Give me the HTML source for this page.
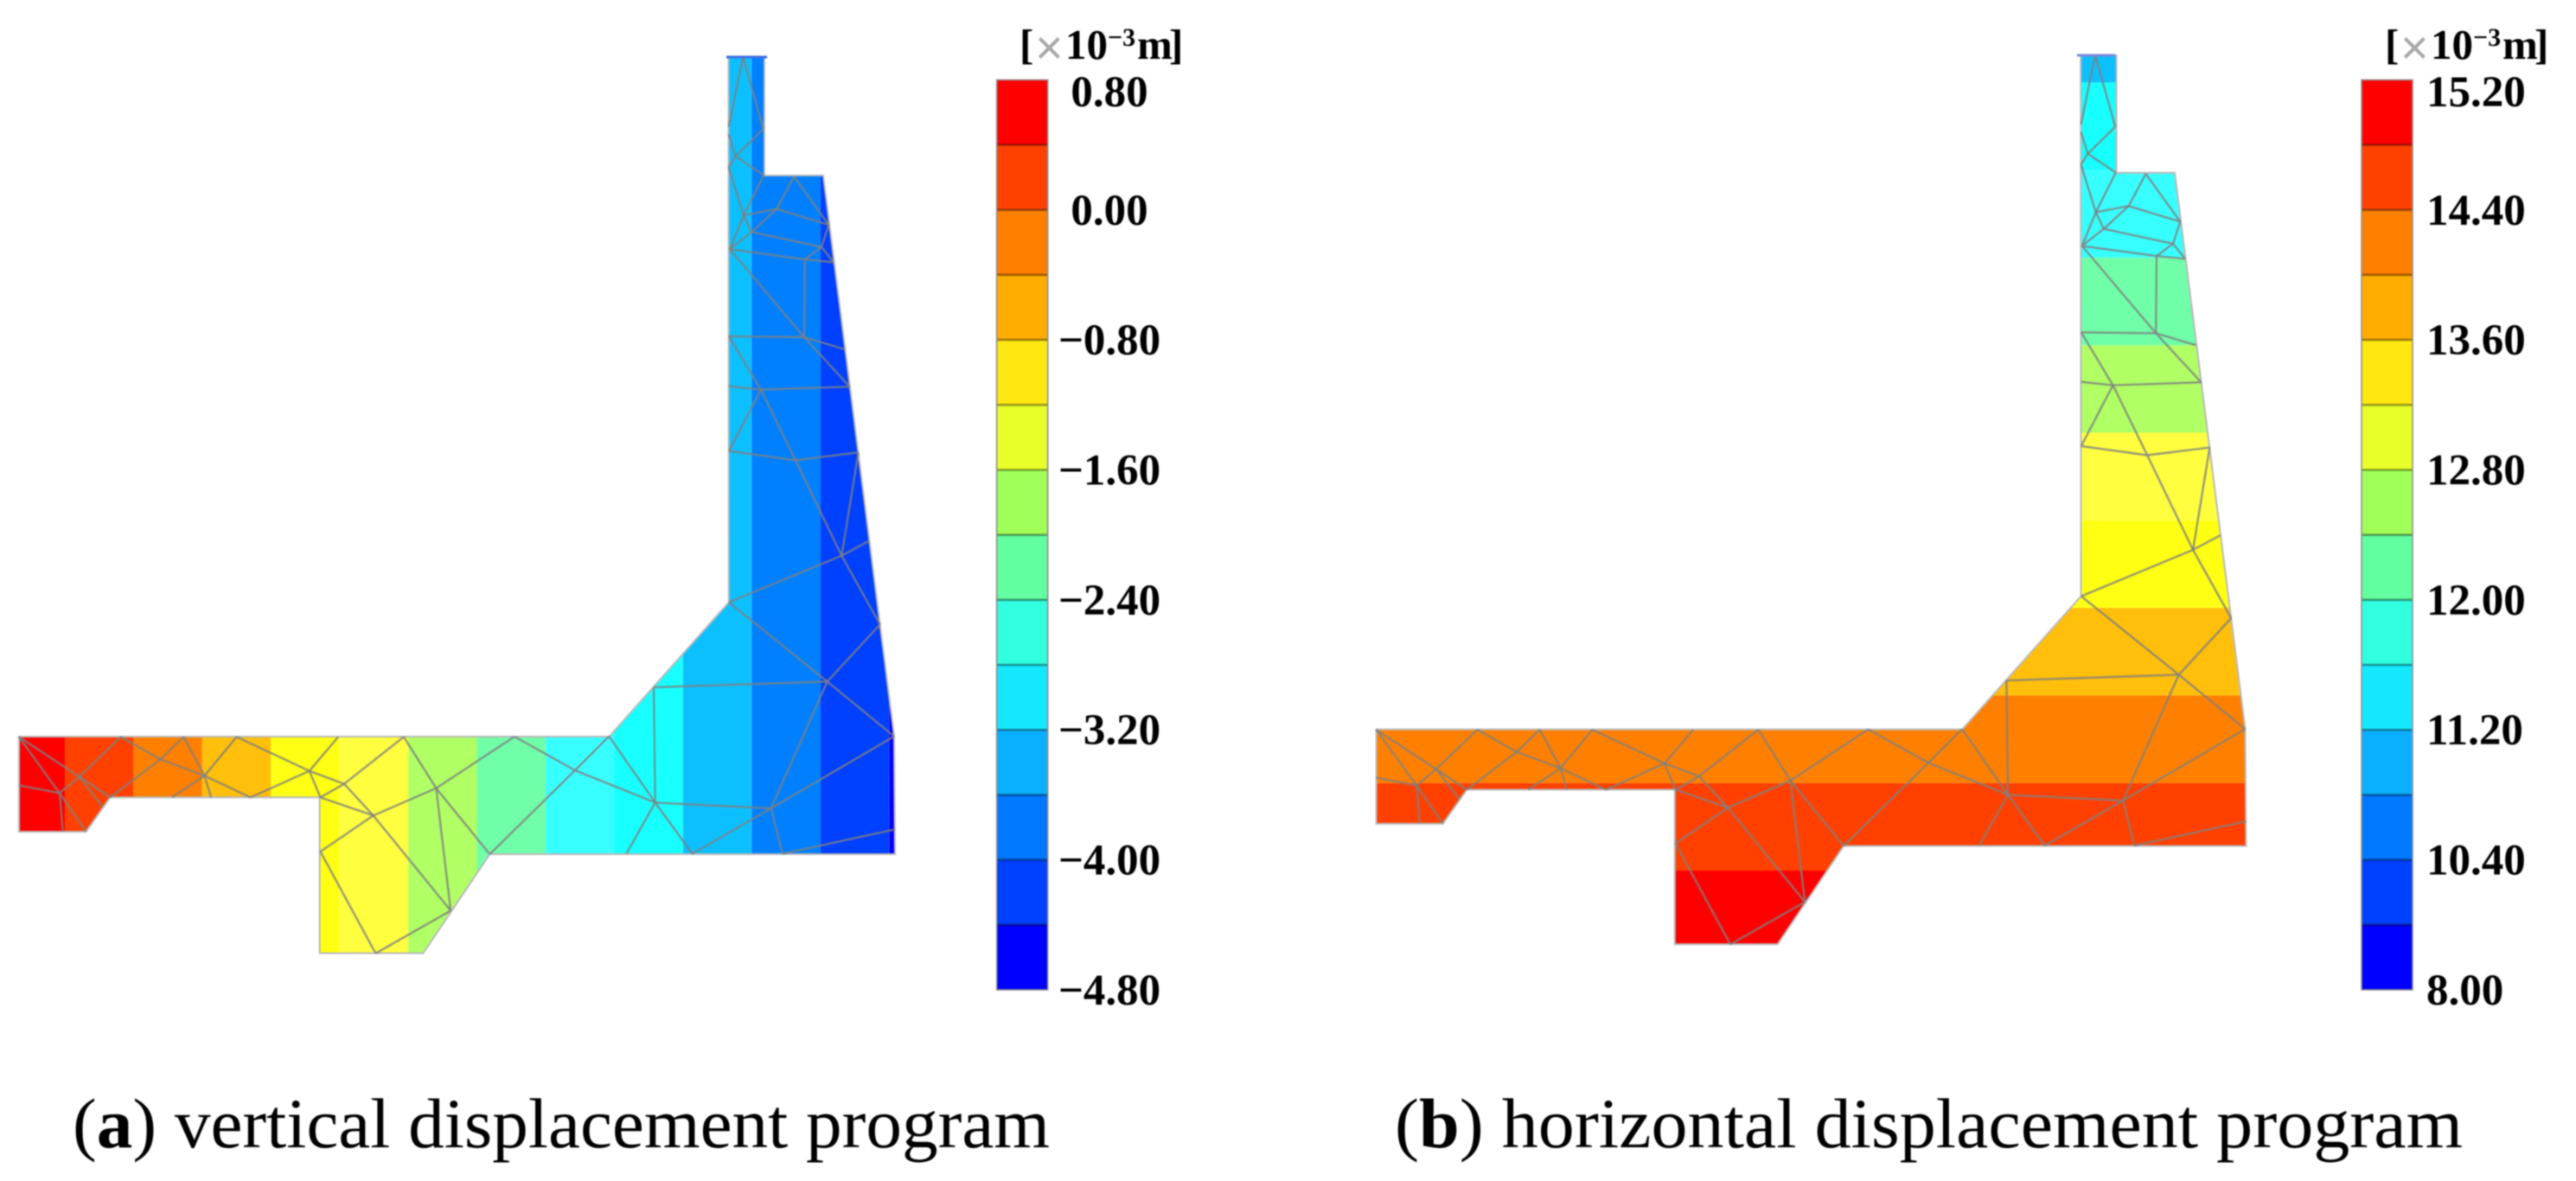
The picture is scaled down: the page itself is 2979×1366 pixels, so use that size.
<!DOCTYPE html>
<html lang="en">
<head>
<meta charset="utf-8">
<title>Vertical and horizontal displacement contours</title>
<style>
html,body{margin:0;padding:0;background:#fff;}
body{width:2979px;height:1366px;overflow:hidden;}
#figure{display:block;filter:blur(0.7px);}
text{font-family:"Liberation Serif",serif;fill:#000;}
.tick{font-size:51px;font-weight:700;}
.unit{font-size:49px;font-weight:700;}
.unit-sup{font-size:30px;font-weight:700;}
.unit-x{font-family:"Liberation Sans",sans-serif;font-size:56px;font-weight:400;fill:#a8a8a8;}
.caption{font-size:82px;}
</style>
</head>
<body>
<svg id="figure" xmlns="http://www.w3.org/2000/svg" width="2979" height="1366" viewBox="0 0 2979 1366">
  <rect width="2979" height="1366" fill="#fff"/>
  <g id="panel-a"></g>
  <g id="panel-b"></g>

  <g>
    <text class="unit" x="1179" y="68">[</text>
    <text class="unit-x" x="1197" y="74">×</text>
    <text class="unit" x="1232" y="68">10</text>
    <text class="unit-sup" x="1281" y="53">−3</text>
    <text class="unit" x="1315" y="68">m</text>
    <text class="unit" x="1352" y="68">]</text>
  </g>
  <g transform="translate(1579 0)">
    <text class="unit" x="1179" y="68">[</text>
    <text class="unit-x" x="1197" y="74">×</text>
    <text class="unit" x="1232" y="68">10</text>
    <text class="unit-sup" x="1281" y="53">−3</text>
    <text class="unit" x="1315" y="68">m</text>
    <text class="unit" x="1352" y="68">]</text>
  </g>

  <text class="caption" x="84" y="1327" textLength="1130" lengthAdjust="spacingAndGlyphs">(<tspan font-weight="700">a</tspan>) vertical displacement program</text>
  <text class="caption" x="1613" y="1327" textLength="1235" lengthAdjust="spacingAndGlyphs">(<tspan font-weight="700">b</tspan>) horizontal displacement program</text>
</svg>

<script>
// Legend band colours, top to bottom
const legendColors = ["#ff0000","#ff4000","#ff7f00","#ffad00","#ffe812","#e8ff2a","#a0ff58","#62ffa0","#30ffe0","#14e8ff","#0ab0ff","#0078ff","#0040ff","#0000ff"];
// Contour fill colours as they appear on the dam section, same band order
const contourColors = ["#ff0000","#ff4000","#ff8000","#ffbf0a","#ffff14","#ffff40","#b0ff64","#70ffa8","#38ffff","#18ffff","#0cc0ff","#0080ff","#0040ff","#0000ff"];
// Contour band edges (x10^-3 m)
const verticalLevels = [0.8,0.4,0,-0.4,-0.8,-1.2,-1.6,-2.0,-2.4,-2.8,-3.2,-3.6,-4.0,-4.4,-4.8];
const horizontalLevels = [15.2,14.8,14.4,14.0,13.6,13.2,12.8,12.4,12.0,11.6,11.2,10.8,10.4,9.2,8.0];
// Legend tick labels, one for every second band edge
const verticalTicks = ["0.80","0.00","−0.80","−1.60","−2.40","−3.20","−4.00","−4.80"];
const horizontalTicks = ["15.20","14.40","13.60","12.80","12.00","11.20","10.40","8.00"];

// Dam cross-section geometry in model units
const damOutline = [[842.5,66],[884,66],[884,203],[952,203],[1034,851.6],[1035,988],[566.4,988],[489.4,1102.5],[369.7,1102.5],[369.7,922.3],[127.4,922.3],[99.5,962],[22,962],[22,852],[704.5,852],[842.8,696.7]];
const meshNodes = {
  A:[859.3,65.7],B:[882.7,149.3],C:[842.7,146.7],D:[842.7,155],E:[850.7,180.7],F:[842.7,193.3],G:[883.3,202.7],
  H:[860,249],I:[918.3,204],J:[898.3,241.7],K:[958.3,260],L:[869.3,268.3],M:[950,285.7],N:[844,288.3],O:[930.7,300],P:[964,303.3],
  Q:[930,390],R:[843,389],S:[976.7,404],T:[982.7,447.3],U:[880,450.7],V:[842.7,446.7],W:[843,521.7],X:[920,532.3],Y:[992.7,523.3],
  Z:[973.3,642.7],AA:[1005,625.7],BB:[843,696.7],CC:[1017.7,722.3],DD:[956.7,788.3],EE:[756,795],FF:[757.7,928.3],GG:[1034,851.7],
  HH:[891.7,935],II:[800.7,987.5],JJ:[905,987.5],KK:[1035,959.3],LL:[724.3,987.5],MM:[704.3,851.7],NN:[566.4,988],OO:[665,891],PP:[595,852],
  a1:[21.8,852.3],a2:[139.7,852.3],a3:[212.4,852.3],a4:[273.6,852.3],a5:[391.1,852.3],a6:[466.9,852.3],
  b1:[91.8,898.3],b2:[185.6,878.3],b3:[236.5,897.3],b4:[357.8,891.7],b5:[398,906.7],b6:[68.9,917.3],b7:[504.4,911.7],b8:[431.7,943.3],
  c1:[21.8,908.3],d1:[127.4,922.3],d2:[199,922.3],d3:[244.2,922.3],d4:[289.7,922.3],d5:[370.5,922.3],
  e1:[118.6,933.3],e2:[72.7,961.7],e3:[99.5,961.7],f1:[370.5,985],f2:[434.4,1102.7],f3:[521.2,1053.3]
};
const meshEdges = ["A-C","A-B","B-E","D-E","E-F","E-G","F-H","G-H","H-J","J-I","I-K","J-K","J-L","H-L","H-N","L-N","L-M","K-M","M-O","M-P","N-O","O-P",
  "N-Q","O-Q","R-Q","Q-S","Q-T","R-U","V-U","U-T","U-W","W-X","U-X","X-Y","X-Z","Y-Z","Z-AA","BB-Z","Z-CC","CC-DD","BB-DD","EE-DD","EE-FF","DD-GG","GG-HH","DD-HH","HH-FF",
  "HH-II","HH-JJ","JJ-KK","FF-II","FF-LL","MM-FF","MM-OO","OO-NN","OO-FF","PP-OO","PP-b7",
  "a1-b6","a1-b1","b1-d1","a2-b1","b1-b6","c1-b6","b6-e2","b6-e3","b1-e1","a2-b2","b2-b3","a3-b2","b2-d1","a3-b3","a4-b3","b3-d2","b3-d3","b3-d4","a4-b4","a5-b4","d4-b4","b4-d5","b4-b5","a6-b5","b5-d5","d5-b8","b5-b8","b8-b7","a6-b7","f1-b8","f1-f2","b8-f3","b7-f3","b7-NN","f2-f3"];

const SVG_NS = "http://www.w3.org/2000/svg";
function make(tag, parent) {
  const el = document.createElementNS(SVG_NS, tag);
  parent.appendChild(el);
  return el;
}

// Axis functions: legend band edge index to y, contour level to position
function legendY(edgeIndex) { return 92.4 + edgeIndex * 75.18; }
function verticalFieldX(level) { return 75 + (0.4 - level) * 198.6; }
function horizontalFieldY(level) { return 1007 - (14.8 - level) * 253.25; }

// Model-to-page mappings for the two section drawings
const panelAX = function (x) { return x; };
const panelAY = function (y) { return y; };
const panelBX = function (x) { return 1569.76 + x * 0.9929; };
const panelBY = function (y) { return -1.47 + y * 0.9919; };

function drawSection(group, key, mapX, mapY) {
  const points = damOutline.map(function (p) { return mapX(p[0]).toFixed(1) + "," + mapY(p[1]).toFixed(1); }).join(" ");
  const defs = make("defs", group);
  const clip = make("clipPath", defs);
  clip.setAttribute("id", "clip-" + key);
  const clipShape = make("polygon", clip);
  clipShape.setAttribute("points", points);

  const bands = make("g", group);
  bands.setAttribute("clip-path", "url(#clip-" + key + ")");
  
  

  const outline = make("polygon", group);
  outline.setAttribute("points", points);
  outline.setAttribute("fill", "none");
  outline.setAttribute("stroke", "#b9b9b9");
  outline.setAttribute("stroke-width", "2");
  
  

  const mesh = make("g", group);
  mesh.setAttribute("stroke", "#7f7f7f");
  mesh.setAttribute("stroke-opacity", "0.8");
  mesh.setAttribute("stroke-width", "2.4");
  
  
  meshEdges.forEach(function (edge) {
    const ends = edge.split("-");
    const from = meshNodes[ends[0]];
    const to = meshNodes[ends[1]];
    const line = make("line", mesh);
    line.setAttribute("x1", mapX(from[0]).toFixed(1));
    line.setAttribute("y1", mapY(from[1]).toFixed(1));
    line.setAttribute("x2", mapX(to[0]).toFixed(1));
    line.setAttribute("y2", mapY(to[1]).toFixed(1));
    
    
  });
  return bands;
}

function drawCap(group, x1, x2, y, color) {
  const cap = make("line", group);
  cap.setAttribute("x1", x1);
  cap.setAttribute("x2", x2);
  cap.setAttribute("y1", y);
  cap.setAttribute("y2", y);
  cap.setAttribute("stroke", color);
  cap.setAttribute("stroke-width", "3");
  
  
}

function drawLegend(group, x, ticks, tickX, anchor) {
  const width = 59;
  const legend = make("g", group);
  
  
  legendColors.forEach(function (color, i) {
    const band = make("rect", legend);
    band.setAttribute("x", x);
    band.setAttribute("y", legendY(i).toFixed(1));
    band.setAttribute("width", width);
    band.setAttribute("height", (legendY(i + 1) - legendY(i)).toFixed(1));
    band.setAttribute("fill", color);
    
    
    if (i > 0) {
      const sep = make("line", legend);
      sep.setAttribute("x1", x);
      sep.setAttribute("x2", x + width);
      sep.setAttribute("y1", legendY(i).toFixed(1));
      sep.setAttribute("y2", legendY(i).toFixed(1));
      sep.setAttribute("stroke", "#000");
      sep.setAttribute("stroke-opacity", "0.38");
      sep.setAttribute("stroke-width", "2.6");
      
      
    }
  });
  const frame = make("rect", legend);
  frame.setAttribute("x", x);
  frame.setAttribute("y", legendY(0).toFixed(1));
  frame.setAttribute("width", width);
  frame.setAttribute("height", (legendY(legendColors.length) - legendY(0)).toFixed(1));
  frame.setAttribute("fill", "none");
  frame.setAttribute("stroke", "#909090");
  frame.setAttribute("stroke-width", "1.6");
  
  
  ticks.forEach(function (label, i) {
    const t = make("text", legend);
    t.setAttribute("class", "tick");
    t.setAttribute("x", tickX);
    t.setAttribute("y", (Math.max(legendY(i * 2), 106) + 17).toFixed(1));
    t.setAttribute("text-anchor", anchor);
    
    
    t.textContent = label;
  });
}

// Panel (a): bands vary with x
const groupA = document.getElementById("panel-a");
const bandsA = drawSection(groupA, "a", panelAX, panelAY);
contourColors.forEach(function (color, i) {
  const x1 = verticalFieldX(verticalLevels[i]);
  const x2 = verticalFieldX(verticalLevels[i + 1]);
  const strip = make("rect", bandsA);
  strip.setAttribute("x", (i === 0 ? 0 : x1).toFixed(1));
  strip.setAttribute("y", 0);
  strip.setAttribute("width", (x2 - (i === 0 ? 0 : x1)).toFixed(1));
  strip.setAttribute("height", 1366);
  strip.setAttribute("fill", color);
  
  
});
drawCap(groupA, 840, 887, 66, "#3d70e4");
drawLegend(groupA, 1152.7, verticalTicks, 1283, "middle");

// Panel (b): bands vary with y
const groupB = document.getElementById("panel-b");
const bandsB = drawSection(groupB, "b", panelBX, panelBY);
contourColors.forEach(function (color, i) {
  const y1 = horizontalFieldY(horizontalLevels[i + 1]);
  const y2 = horizontalFieldY(horizontalLevels[i]);
  const strip = make("rect", bandsB);
  strip.setAttribute("x", 1500);
  strip.setAttribute("y", y1.toFixed(1));
  strip.setAttribute("width", 1200);
  strip.setAttribute("height", ((i === 0 ? 1366 : y2) - y1).toFixed(1));
  strip.setAttribute("fill", color);
  
  
});
drawCap(groupB, 2402, 2446, 64, "#7a86da");
drawLegend(groupB, 2731, horizontalTicks, 2806, "start");
</script>
</body>
</html>
